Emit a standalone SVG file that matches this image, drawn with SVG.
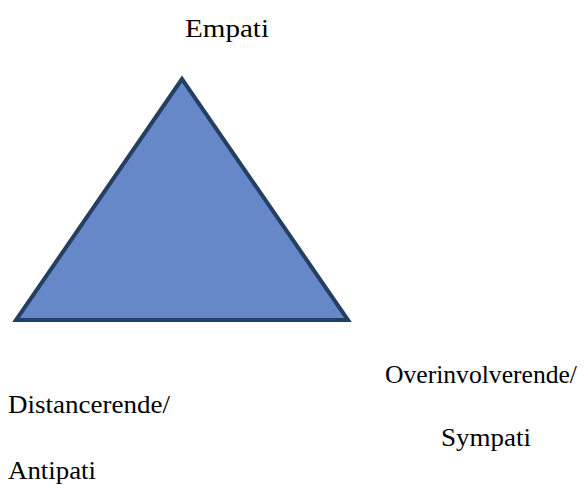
<svg xmlns="http://www.w3.org/2000/svg" width="585" height="485" viewBox="0 0 585 485">
<defs>
<style>
.lbl{font-family:'Liberation Serif',serif;font-size:25px;fill:#000000}
.tri{fill:#6688c9;stroke:#243f60;stroke-width:4}
</style>
</defs>
<rect width="585" height="485" fill="#ffffff"/>
<g id="triangle"><polygon class="tri" points="182,79 16,320 348,320"/></g>
<g id="empati"><text class="lbl" x="185" y="37" font-size="25" textLength="84" lengthAdjust="spacingAndGlyphs">Empati</text></g>
<g id="overinvolverende"><text class="lbl" x="385" y="383" font-size="25" textLength="192" lengthAdjust="spacingAndGlyphs">Overinvolverende/</text></g>
<g id="distancerende"><text class="lbl" x="8" y="413" font-size="25" textLength="162" lengthAdjust="spacingAndGlyphs">Distancerende/</text></g>
<g id="sympati"><text class="lbl" x="441" y="446" font-size="25" textLength="90" lengthAdjust="spacingAndGlyphs">Sympati</text></g>
<g id="antipati"><text class="lbl" x="8" y="479" font-size="25" textLength="88" lengthAdjust="spacingAndGlyphs">Antipati</text></g>
</svg>
